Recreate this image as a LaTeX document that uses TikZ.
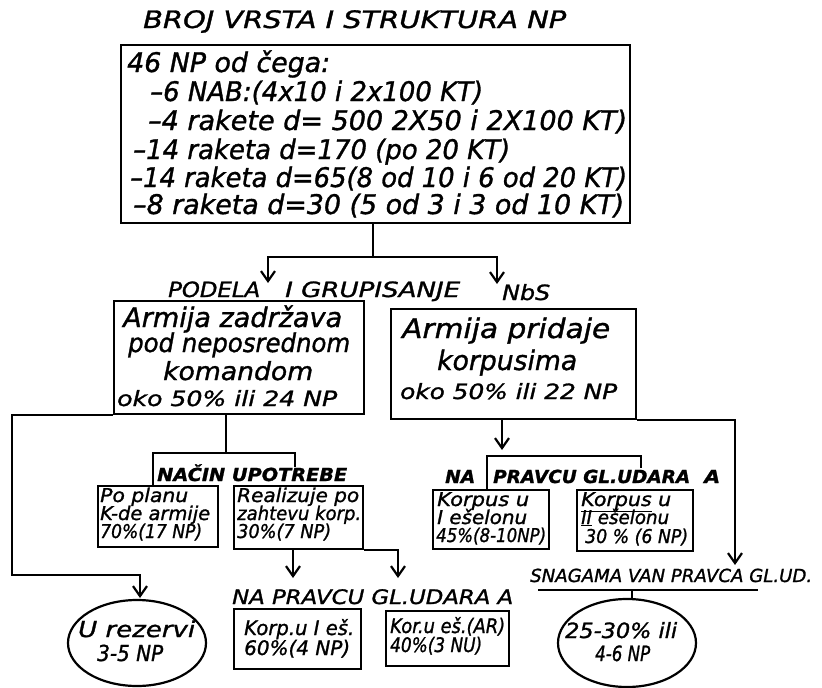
\documentclass[tikz,border=0pt]{standalone}
\usepackage{fontspec}
\usepackage{graphicx}
\setmainfont[FakeBold=1.2,BoldFeatures={FakeBold=0.6}]{DejaVu Sans}
\usetikzlibrary{arrows.meta,shapes.geometric}
\newcommand\fs[1]{\fontsize{#1}{#1}\selectfont\itshape}
\newcommand\tw[2]{\resizebox{#1pt}{\height}{#2}}
\newcommand\tl[6]{\node[txt, font=\fs{#4}] (#1) at (#2,#3) {\tw{#5}{#6}};}
\newcommand\tlb[6]{\node[txt, font=\fs{#4}\bfseries] (#1) at (#2,#3) {\tw{#5}{#6}};}
\tikzset{
  txt/.style={anchor=base west, inner sep=0pt},
  box/.style={draw, line width=2.2pt, inner sep=0pt, anchor=north west},
  ell/.style={draw, ellipse, line width=2.2pt, inner sep=0pt},
  ln/.style={line width=2.2pt},
  arr/.style={line width=2.2pt, -{Straight Barb[length=10pt,width=14pt]}}
}
\begin{document}
\begin{tikzpicture}[x=1pt,y=-1pt]
\useasboundingbox (0,0) rectangle (822,688);
% title and top box
\tl{title}{143}{28}{24}{423}{BROJ VRSTA I STRUKTURA NP}
\node[box, minimum width=509pt, minimum height=178pt] (top) at (120,44) {};
\tl{l0}{127}{72}{27}{203}{46 NP od čega:}
\tl{l1}{150}{101}{27}{333}{–6 NAB:(4x10 i 2x100 KT)}
\tl{l2}{148}{130}{27}{479}{–4 rakete d= 500 2X50 i 2X100 KT)}
\tl{l3}{133}{159}{27}{377}{–14 raketa d=170 (po 20 KT)}
\tl{l4}{130}{187}{27}{497}{–14 raketa d=65(8 od 10 i 6 od 20 KT)}
\tl{l5}{133}{214}{27}{491}{–8 raketa d=30 (5 od 3 i 3 od 10 KT)}
% split
\coordinate (j1) at (373,257);
\coordinate (a1) at (268,283);
\coordinate (a2) at (497,284);
\draw[ln] (top.south -| j1) -- (j1);
\draw[arr] (j1) -| (a1);
\draw[arr] (j1) -| (a2);
\tl{pod1}{168}{297}{21}{92}{PODELA}
\tl{pod2}{285}{297}{21}{175}{I GRUPISANJE}
\tl{nbs}{502}{300}{21}{48}{NbS}
% left big box
\node[box, minimum width=250pt, minimum height=113pt] (lb) at (113,300) {};
\tl{lb1}{123}{327}{27}{219}{Armija zadržava}
\tl{lb2}{128}{352}{26}{222}{pod neposrednom}
\tl{lb3}{163}{380}{25}{150}{komandom}
\tl{lb4}{117}{406}{21}{220}{oko 50\% ili 24 NP}
% right big box
\node[box, minimum width=245pt, minimum height=110pt] (rb) at (390,308) {};
\tl{rb1}{402}{338}{27}{208}{Armija pridaje}
\tl{rb2}{437}{370}{27}{140}{korpusima}
\tl{rb3}{400}{399}{21}{217}{oko 50\% ili 22 NP}
% reserve path
\coordinate (k1) at (12,575);
\coordinate (a0) at (140,598);
\node[ell, minimum width=138pt, minimum height=86pt] (rez) at (137,643) {};
\draw[arr] (lb.south west) -| (k1) -| (a0);
\tl{rz1}{78}{637}{22}{117}{U rezervi}
\tl{rz2}{97}{661}{22}{66}{3-5 NP}
% nacin upotrebe
\node[box, minimum width=120pt, minimum height=61pt] (pl) at (97,485) {};
\tl{pl1}{100}{502}{19}{88}{Po planu}
\tl{pl2}{100}{520}{19}{110}{K-de armije}
\tl{pl3}{100}{538}{19}{102}{70\%(17 NP)}
\node[box, minimum width=129pt, minimum height=63pt] (re) at (233,485) {};
\tl{re1}{237}{502}{19}{122}{Realizuje po}
\tl{re2}{237}{520}{19}{124}{zahtevu korp.}
\tl{re3}{237}{538}{19}{94}{30\%(7 NP)}
\coordinate (j2) at (226,453);
\coordinate (c3) at (153,453);
\coordinate (c4) at (295,453);
\coordinate (b1) at (295,467);
\draw[ln] (lb.south -| j2) -- (j2);
\draw[ln] (pl.north -| c3) -- (c3) -- (c4) -- (b1);
\tlb{nac}{157}{481}{18}{190}{NAČIN UPOTREBE}
% korpus boxes
\coordinate (a5) at (502,450);
\draw[arr] (rb.south -| a5) -- (a5);
\node[box, minimum width=116pt, minimum height=59pt] (kb1) at (432,489) {};
\tl{kb11}{437}{506}{19}{92}{Korpus u}
\tl{kb12}{437}{524}{19}{90}{I ešelonu}
\tl{kb13}{436}{542}{19}{110}{45\%(8-10NP)}
\node[box, minimum width=116pt, minimum height=61pt] (kb2) at (576,489) {};
\tl{kb21}{581}{506}{19}{90}{\underline{Korpus} u}
\tl{kb22}{581}{524}{19}{88}{\underline{II} ešelonu}
\tl{kb23}{585}{543}{19}{103}{30 \% (6 NP)}
\coordinate (c1) at (487,456);
\coordinate (c2) at (641,456);
\coordinate (b2) at (641,468);
\draw[ln] (kb1.north -| c1) -- (c1) -- (c2) -- (b2);
\tlb{na1}{445}{483}{18}{30}{NA}
\tlb{na2}{493}{483}{18}{197}{PRAVCU GL.UDARA}
\tlb{na3}{704}{483}{18}{16}{A}
% lower branch
\coordinate (a3) at (293,578);
\coordinate (a4) at (398,578);
\draw[arr] (re.south -| a3) -- (a3);
\draw[arr] (re.south east) -| (a4);
\tl{nb}{232}{604}{20}{281}{NA PRAVCU GL.UDARA A}
\node[box, minimum width=127pt, minimum height=60pt] (kp1) at (233,608) {};
\tl{kp11}{244}{635}{20}{110}{Korp.u I eš.}
\tl{kp12}{244}{655}{20}{106}{60\%(4 NP)}
\node[box, minimum width=123pt, minimum height=55pt] (kp2) at (385,610) {};
\tl{kp21}{390}{633}{20}{115}{Kor.u eš.(AR)}
\tl{kp22}{390}{652}{20}{92}{40\%(3 NU)}
% van pravca
\coordinate (a6) at (735,565);
\draw[arr] (rb.south east) -| (a6);
\tl{sn}{530}{582}{18}{282}{SNAGAMA VAN PRAVCA GL.UD.}
\coordinate (u1) at (538,590);
\coordinate (u2) at (758,590);
\coordinate (u3) at (632,590);
\draw[ln] (u1) -- (u2);
\node[ell, minimum width=138pt, minimum height=88pt] (van) at (627,643) {};
\draw[ln] (u3) -- (van.north -| u3);
\tl{e21}{565}{638}{21}{112}{25-30\% ili}
\tl{e22}{595}{661}{21}{55}{4-6 NP}
\end{tikzpicture}
\end{document}
